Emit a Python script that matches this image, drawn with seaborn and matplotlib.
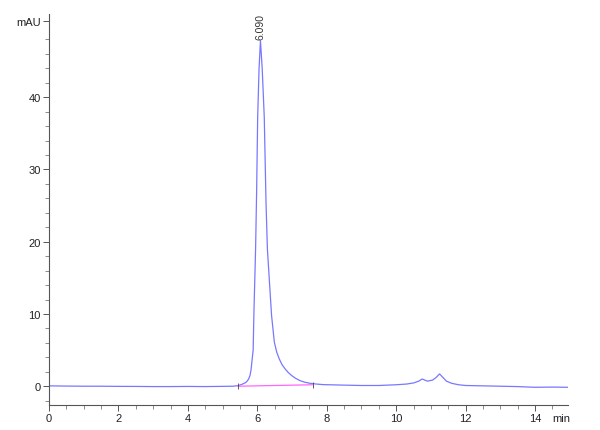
import matplotlib
matplotlib.use("Agg")
import matplotlib.pyplot as plt
import seaborn as sns
import pandas as pd

# chromatogram trace (min, mAU)
time_min = [0.0, 0.5, 1.0, 1.5, 2.0, 2.5, 3.0, 3.5, 4.0, 4.5, 5.0, 5.3, 5.45,
            5.55, 5.63, 5.69, 5.75, 5.79, 5.82, 5.85, 5.88, 5.90, 5.95, 5.98,
            6.01, 6.05, 6.09, 6.14, 6.20, 6.25, 6.29, 6.35, 6.41, 6.49, 6.56,
            6.63, 6.71, 6.80, 6.89, 6.99, 7.10, 7.23, 7.37, 7.52, 7.7, 7.9,
            8.5, 9.0, 9.5, 10.0, 10.3, 10.5, 10.65, 10.75, 10.9, 11.05, 11.15,
            11.25, 11.35, 11.45, 11.6, 11.8, 12.0, 12.5, 13.0, 13.5, 14.0,
            14.5, 14.95]
signal_mau = [0.05, 0.02, 0.0, 0.0, -0.02, -0.03, -0.05, -0.05, -0.03, -0.05,
              -0.02, 0.0, 0.08, 0.25, 0.42, 0.6, 1.0, 1.5, 2.3, 3.7, 5.0, 9.8,
              19.0, 27.0, 37.2, 44.0, 47.8, 44.0, 37.2, 25.5, 19.0, 14.4, 9.8,
              6.1, 4.7, 3.8, 3.0, 2.4, 1.9, 1.47, 1.1, 0.77, 0.55, 0.4, 0.3,
              0.22, 0.15, 0.1, 0.1, 0.2, 0.3, 0.45, 0.7, 1.0, 0.7, 0.85, 1.2,
              1.7, 1.2, 0.7, 0.4, 0.2, 0.1, 0.05, 0.0, -0.05, -0.15, -0.12,
              -0.15]

# integration baseline of the main peak
base_t = [5.44, 7.59]
base_y = [0.0, 0.2]

peak_rt = 6.090
peak_h = 47.8

x_major = [0, 2, 4, 6, 8, 10, 12, 14]
y_major = [0, 10, 20, 30, 40]

sns.set_style("ticks")
plt.rcParams["font.family"] = ["Liberation Sans Narrow", "Liberation Sans", "DejaVu Sans"]

fig = plt.figure(figsize=(6.0, 4.31), dpi=100)
ax = fig.add_axes([0.0818, 0.058, 0.8648, 0.907])

df = pd.DataFrame({"t": time_min, "mAU": signal_mau})
sns.lineplot(data=df, x="t", y="mAU", ax=ax, color="#7878ff", linewidth=0.9,
             estimator=None, sort=False)
ax.plot(base_t, base_y, color="#ff66ff", linewidth=0.9)
ax.plot(base_t, base_y, linestyle="none", marker="|", markersize=4,
        color="#444444", markeredgewidth=0.6)

ax.text(peak_rt, peak_h + 0.3, f"{peak_rt:.3f}", rotation=90, ha="center",
        va="bottom", fontsize=7.5, color="#333333")

ax.set_xlim(0, 14.95)
ax.set_ylim(-2.6, 51.5)

ax.set_xticks(x_major + [14.77])
ax.set_xticklabels([str(v) for v in x_major] + ["min"])
ax.set_xticks([v / 2 for v in range(0, 30) if v % 4 != 0], minor=True)
ax.set_yticks(y_major + [50.5])
ax.set_yticklabels([str(v) for v in y_major] + ["mAU"])
ax.set_yticks([v for v in range(-2, 51, 2) if v % 10 != 0], minor=True)

ax.tick_params(axis="both", which="major", length=4, width=0.7, color="#555555",
               labelsize=8, labelcolor="#222222", pad=2)
ax.tick_params(axis="both", which="minor", length=3, width=0.6, color="#777777")
# "min" label sits without a tick
ax.xaxis.get_major_ticks()[-1].tick1line.set_visible(False)

for side in ["top", "right"]:
    ax.spines[side].set_visible(False)
for side in ["left", "bottom"]:
    ax.spines[side].set_color("#555555")
    ax.spines[side].set_linewidth(0.8)

ax.set_xlabel("")
ax.set_ylabel("")

fig.savefig("out.png", dpi=100)
